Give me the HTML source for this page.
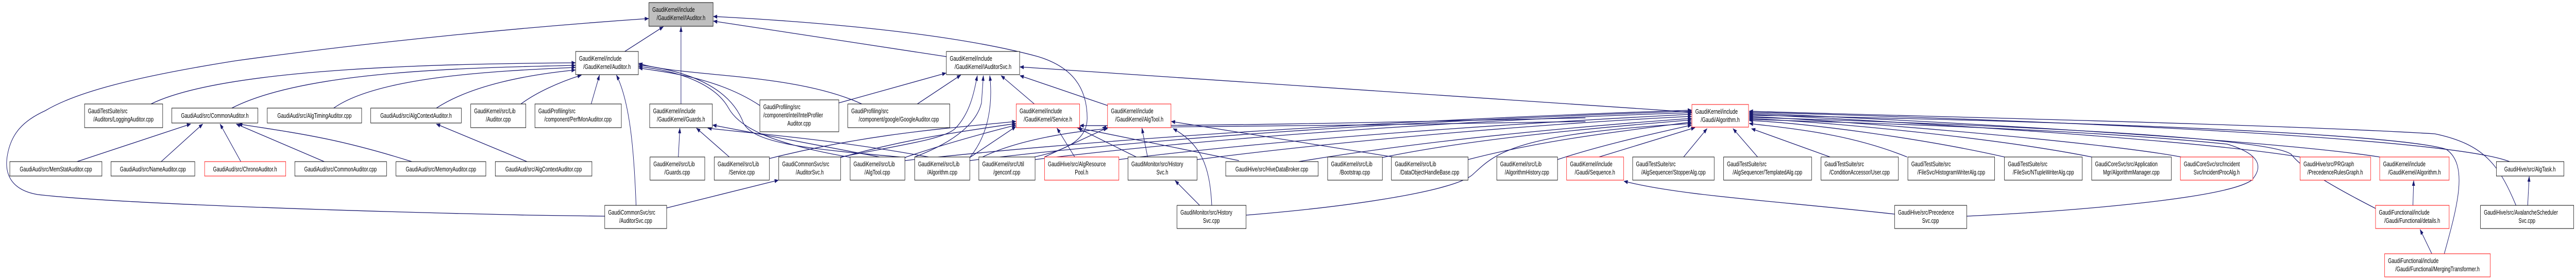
<!DOCTYPE html>
<html><head><meta charset="utf-8"><style>
html,body{margin:0;padding:0;background:#fff;width:100%;height:100%;overflow:hidden;}
svg{display:block;width:100vw;height:100vh;}
text{font-family:"Liberation Sans",sans-serif;font-size:12.5px;fill:#000;}
.e{fill:none;stroke:#191970;stroke-width:1.3;marker-end:url(#a);}
.n{fill:#fff;stroke:#000;stroke-width:1;}
.r{fill:#fff;stroke:#ff0000;stroke-width:1;}
.g{fill:#bfbfbf;stroke:#000;stroke-width:1;}
</style></head><body>
<svg viewBox="0 0 6824 544" preserveAspectRatio="none" xmlns="http://www.w3.org/2000/svg" overflow="hidden">
<defs><marker id="a" markerWidth="11" markerHeight="8" refX="10" refY="4" orient="auto" markerUnits="userSpaceOnUse"><path d="M0,0 L11,4 L0,8 z" fill="#191970"/></marker></defs>

<path class="e" d="M1655,100 L1757,52"/>
<path class="e" d="M1804,202 L1804,52"/>
<path class="e" d="M2507,110 L1890,41"/>
<path class="e" d="M1602,420 L1400,418 C900,410 300,395 100,378 C20,368 12,330 20,300 C30,260 60,235 120,215 C200,180 350,150 625,118 C1000,80 1400,52 1718,36"/>
<path class="e" d="M400,202 C600,130 1200,124 1524,122"/>
<path class="e" d="M614,210 C800,140 1200,132 1524,127"/>
<path class="e" d="M884,210 C1000,150 1300,138 1524,131"/>
<path class="e" d="M1156,210 C1250,165 1400,145 1524,136"/>
<path class="e" d="M1380,202 C1420,180 1480,160 1540,146"/>
<path class="e" d="M1566,202 L1588,146"/>
<path class="e" d="M1685,399 C1680,300 1670,200 1633,146"/>
<path class="e" d="M2013,205 C1900,150 1760,140 1692,132"/>
<path class="e" d="M2283,202 C2100,140 1800,150 1692,123"/>
<path class="e" d="M2400,306 C2150,290 2000,280 1970,240 C1940,180 1850,140 1692,126"/>
<path class="e" d="M2255,306 C2050,280 1960,250 1930,210 C1900,170 1820,140 1692,129"/>
<path class="e" d="M204,314 L505,241"/>
<path class="e" d="M427,314 L537,241"/>
<path class="e" d="M638,314 L583,241"/>
<path class="e" d="M859,314 L626,241"/>
<path class="e" d="M1091,314 C900,270 800,260 632,241"/>
<path class="e" d="M1396,314 L1156,241"/>
<path class="e" d="M1797,305 L1801,249"/>
<path class="e" d="M1932,305 L1845,249"/>
<path class="e" d="M2330,305 L1888,243"/>
<path class="e" d="M2460,305 C2200,270 2000,260 1875,249"/>
<path class="e" d="M1766,404 L2062,350"/>
<path class="e" d="M2222,200 L2506,142"/>
<path class="e" d="M2430,202 L2545,146"/>
<path class="e" d="M2227,305 C2400,280 2500,270 2530,250 C2570,220 2580,180 2589,147"/>
<path class="e" d="M2423,305 C2550,270 2590,230 2600,200 L2605,147"/>
<path class="e" d="M2570,305 C2620,260 2630,200 2622,147"/>
<path class="e" d="M2740,202 L2652,147"/>
<path class="e" d="M2934,205 L2702,147"/>
<path class="e" d="M4482,218 L2702,130"/>
<path class="e" d="M2740,305 C2800,295 2880,280 2880,230 C2880,170 2840,130 2750,110 C2500,60 2100,40 1890,32"/>
<path class="e" d="M2038,308 C2300,260 2500,250 2691,236"/>
<path class="e" d="M2227,306 C2400,270 2550,255 2691,240"/>
<path class="e" d="M2397,306 C2500,280 2600,260 2691,243"/>
<path class="e" d="M2569,306 L2691,246"/>
<path class="e" d="M2847,305 L2800,249"/>
<path class="e" d="M3010,305 L2856,249"/>
<path class="e" d="M3282,312 L2853,248"/>
<path class="e" d="M4200,229 C3800,235 3300,245 2861,244"/>
<path class="e" d="M4200,236 C3800,240 3300,248 2920,248"/>
<path class="e" d="M3040,305 L3025,249"/>
<path class="e" d="M3690,305 L3103,236"/>
<path class="e" d="M2767,305 L2934,248"/>
<path class="e" d="M2600,306 C2700,270 2850,255 2934,250"/>
<path class="e" d="M3178,399 L3113,351"/>
<path class="e" d="M3210,399 C3205,320 3180,280 3108,250"/>
<path class="e" d="M3301,418 C3600,400 3850,370 3900,340 C3960,300 4000,260 4481,240"/>
<path class="e" d="M2964,310 C3400,270 4000,240 4481,222"/>
<path class="e" d="M3171,310 C3600,270 4100,240 4481,226"/>
<path class="e" d="M3440,314 C3800,270 4200,245 4481,230"/>
<path class="e" d="M3662,306 C3900,270 4200,250 4481,233"/>
<path class="e" d="M3889,310 C4100,270 4300,255 4481,237"/>
<path class="e" d="M4126,310 C4250,280 4380,260 4481,243"/>
<path class="e" d="M4236,305 L4490,248"/>
<path class="e" d="M2742,310 C3300,260 4000,230 4481,219"/>
<path class="e" d="M2569,312 C3200,255 4000,228 4481,216"/>
<path class="e" d="M2397,312 C3100,255 4000,226 4481,214"/>
<path class="e" d="M4460,305 L4522,250"/>
<path class="e" d="M4656,305 L4591,250"/>
<path class="e" d="M4848,305 L4640,250"/>
<path class="e" d="M5052,305 C4900,260 4750,250 4634,240"/>
<path class="e" d="M5310,305 C5100,270 4800,240 4634,234"/>
<path class="e" d="M5541,305 C5300,270 4900,240 4634,230"/>
<path class="e" d="M5778,305 C5600,280 5000,240 4634,226"/>
<path class="e" d="M6093,305 C5800,270 5000,235 4634,222"/>
<path class="e" d="M6304,305 C6000,270 5000,230 4634,220"/>
<path class="e" d="M6648,314 C6500,270 5500,235 4634,218"/>
<path class="e" d="M6665,399 C6620,320 6580,280 6450,260 C6000,240 5000,225 4634,216"/>
<path class="e" d="M6475,493 C6510,400 6540,320 6480,290 C6300,250 5000,228 4634,224"/>
<path class="e" d="M6293,405 C6200,370 6100,330 6070,300 C6000,260 5000,236 4634,228"/>
<path class="e" d="M5210,420 C5500,410 5900,385 5965,350 C5995,325 5990,300 5900,280 C5500,250 4900,238 4634,232"/>
<path class="e" d="M5019,416 C4700,390 4450,380 4302,352"/>
<path class="e" d="M6442,493 L6411,446"/>
<path class="e" d="M6392,399 L6394,351"/>
<path class="e" d="M6696,399 L6700,343"/>

<rect class="g" x="1719" y="5" width="170" height="46"/><text x="1728" y="23">GaudiKernel/include</text><text x="1804" y="39" text-anchor="middle">/GaudiKernel/IAuditor.h</text>
<rect class="n" x="1525" y="100" width="166" height="45"/><text x="1534" y="118">GaudiKernel/include</text><text x="1608" y="134" text-anchor="middle">/GaudiKernel/Auditor.h</text>
<rect class="n" x="2507" y="100" width="194" height="45"/><text x="2516" y="118">GaudiKernel/include</text><text x="2604" y="134" text-anchor="middle">/GaudiKernel/IAuditorSvc.h</text>

<rect class="n" x="224" y="202" width="207" height="46"/><text x="233" y="220">GaudiTestSuite/src</text><text x="327" y="236" text-anchor="middle">/Auditors/LoggingAuditor.cpp</text>
<rect class="n" x="455" y="210" width="228" height="29"/><text x="569" y="229" text-anchor="middle">GaudiAud/src/CommonAuditor.h</text>
<rect class="n" x="708" y="210" width="250" height="29"/><text x="833" y="229" text-anchor="middle">GaudiAud/src/AlgTimingAuditor.cpp</text>
<rect class="n" x="982" y="210" width="240" height="29"/><text x="1102" y="229" text-anchor="middle">GaudiAud/src/AlgContextAuditor.h</text>
<rect class="n" x="1247" y="202" width="146" height="46"/><text x="1256" y="220">GaudiKernel/src/Lib</text><text x="1320" y="236" text-anchor="middle">/Auditor.cpp</text>
<rect class="n" x="1417" y="202" width="229" height="46"/><text x="1426" y="220">GaudiProfiling/src</text><text x="1531" y="236" text-anchor="middle">/component/PerfMonAuditor.cpp</text>
<rect class="n" x="1721" y="202" width="166" height="46"/><text x="1730" y="220">GaudiKernel/include</text><text x="1804" y="236" text-anchor="middle">/GaudiKernel/Guards.h</text>
<rect class="n" x="2013" y="194" width="209" height="62"/><text x="2022" y="212">GaudiProfiling/src</text><text x="2022" y="228">/component/intel/IntelProfiler</text><text x="2117" y="244" text-anchor="middle">Auditor.cpp</text>
<rect class="n" x="2246" y="202" width="270" height="46"/><text x="2255" y="220">GaudiProfiling/src</text><text x="2381" y="236" text-anchor="middle">/component/google/GoogleAuditor.cpp</text>
<rect class="r" x="2692" y="202" width="168" height="46"/><text x="2701" y="220">GaudiKernel/include</text><text x="2776" y="236" text-anchor="middle">/GaudiKernel/Service.h</text>
<rect class="r" x="2934" y="202" width="168" height="46"/><text x="2943" y="220">GaudiKernel/include</text><text x="3018" y="236" text-anchor="middle">/GaudiKernel/AlgTool.h</text>
<rect class="r" x="4482" y="203" width="150" height="44"/><text x="4491" y="221">GaudiKernel/include</text><text x="4557" y="237" text-anchor="middle">/Gaudi/Algorithm.h</text>

<rect class="n" x="26" y="314" width="244" height="28"/><text x="148" y="333" text-anchor="middle">GaudiAud/src/MemStatAuditor.cpp</text>
<rect class="n" x="294" y="314" width="222" height="28"/><text x="405" y="333" text-anchor="middle">GaudiAud/src/NameAuditor.cpp</text>
<rect class="r" x="542" y="314" width="215" height="28"/><text x="649" y="333" text-anchor="middle">GaudiAud/src/ChronoAuditor.h</text>
<rect class="n" x="781" y="314" width="243" height="28"/><text x="902" y="333" text-anchor="middle">GaudiAud/src/CommonAuditor.cpp</text>
<rect class="n" x="1049" y="314" width="238" height="28"/><text x="1168" y="333" text-anchor="middle">GaudiAud/src/MemoryAuditor.cpp</text>
<rect class="n" x="1312" y="314" width="256" height="28"/><text x="1440" y="333" text-anchor="middle">GaudiAud/src/AlgContextAuditor.cpp</text>
<rect class="n" x="3247" y="314" width="245" height="28"/><text x="3369" y="333" text-anchor="middle">GaudiHive/src/HiveDataBroker.cpp</text>
<rect class="n" x="6613" y="314" width="179" height="28"/><text x="6702" y="333" text-anchor="middle">GaudiHive/src/AlgTask.h</text>

<rect class="n" x="1722" y="305" width="145" height="45"/><text x="1731" y="323">GaudiKernel/src/Lib</text><text x="1794" y="339" text-anchor="middle">/Guards.cpp</text>
<rect class="n" x="1892" y="305" width="146" height="45"/><text x="1901" y="323">GaudiKernel/src/Lib</text><text x="1965" y="339" text-anchor="middle">/Service.cpp</text>
<rect class="n" x="2063" y="305" width="164" height="45"/><text x="2072" y="323">GaudiCommonSvc/src</text><text x="2145" y="339" text-anchor="middle">/AuditorSvc.h</text>
<rect class="n" x="2252" y="305" width="145" height="45"/><text x="2261" y="323">GaudiKernel/src/Lib</text><text x="2324" y="339" text-anchor="middle">/AlgTool.cpp</text>
<rect class="n" x="2423" y="305" width="146" height="45"/><text x="2432" y="323">GaudiKernel/src/Lib</text><text x="2496" y="339" text-anchor="middle">/Algorithm.cpp</text>
<rect class="n" x="2593" y="305" width="149" height="45"/><text x="2602" y="323">GaudiKernel/src/Util</text><text x="2667" y="339" text-anchor="middle">/genconf.cpp</text>
<rect class="r" x="2767" y="305" width="197" height="45"/><text x="2776" y="323">GaudiHive/src/AlgResource</text><text x="2865" y="339" text-anchor="middle">Pool.h</text>
<rect class="n" x="2988" y="305" width="183" height="45"/><text x="2997" y="323">GaudiMonitor/src/History</text><text x="3079" y="339" text-anchor="middle">Svc.h</text>
<rect class="n" x="3517" y="305" width="145" height="45"/><text x="3526" y="323">GaudiKernel/src/Lib</text><text x="3589" y="339" text-anchor="middle">/Bootstrap.cpp</text>
<rect class="n" x="3686" y="305" width="203" height="45"/><text x="3695" y="323">GaudiKernel/src/Lib</text><text x="3787" y="339" text-anchor="middle">/DataObjectHandleBase.cpp</text>
<rect class="n" x="3965" y="305" width="161" height="45"/><text x="3974" y="323">GaudiKernel/src/Lib</text><text x="4045" y="339" text-anchor="middle">/AlgorithmHistory.cpp</text>
<rect class="r" x="4150" y="305" width="151" height="45"/><text x="4159" y="323">GaudiKernel/include</text><text x="4225" y="339" text-anchor="middle">/Gaudi/Sequence.h</text>
<rect class="n" x="4325" y="305" width="216" height="45"/><text x="4334" y="323">GaudiTestSuite/src</text><text x="4433" y="339" text-anchor="middle">/AlgSequencer/StopperAlg.cpp</text>
<rect class="n" x="4566" y="305" width="233" height="45"/><text x="4575" y="323">GaudiTestSuite/src</text><text x="4682" y="339" text-anchor="middle">/AlgSequencer/TemplatedAlg.cpp</text>
<rect class="n" x="4824" y="305" width="205" height="45"/><text x="4833" y="323">GaudiTestSuite/src</text><text x="4926" y="339" text-anchor="middle">/ConditionAccessor/User.cpp</text>
<rect class="n" x="5054" y="305" width="230" height="45"/><text x="5063" y="323">GaudiTestSuite/src</text><text x="5169" y="339" text-anchor="middle">/FileSvc/HistogramWriterAlg.cpp</text>
<rect class="n" x="5310" y="305" width="206" height="45"/><text x="5319" y="323">GaudiTestSuite/src</text><text x="5413" y="339" text-anchor="middle">/FileSvc/NTupleWriterAlg.cpp</text>
<rect class="n" x="5541" y="305" width="211" height="45"/><text x="5550" y="323">GaudiCoreSvc/src/Application</text><text x="5646" y="339" text-anchor="middle">Mgr/AlgorithmManager.cpp</text>
<rect class="r" x="5776" y="305" width="192" height="45"/><text x="5785" y="323">GaudiCoreSvc/src/Incident</text><text x="5872" y="339" text-anchor="middle">Svc/IncidentProcAlg.h</text>
<rect class="r" x="6093" y="305" width="187" height="45"/><text x="6102" y="323">GaudiHive/src/PRGraph</text><text x="6186" y="339" text-anchor="middle">/PrecedenceRulesGraph.h</text>
<rect class="r" x="6304" y="305" width="184" height="45"/><text x="6313" y="323">GaudiKernel/include</text><text x="6396" y="339" text-anchor="middle">/GaudiKernel/Algorithm.h</text>

<rect class="n" x="1602" y="399" width="164" height="45"/><text x="1611" y="417">GaudiCommonSvc/src</text><text x="1684" y="433" text-anchor="middle">/AuditorSvc.cpp</text>
<rect class="n" x="3118" y="399" width="183" height="45"/><text x="3127" y="417">GaudiMonitor/src/History</text><text x="3209" y="433" text-anchor="middle">Svc.cpp</text>
<rect class="n" x="5019" y="399" width="191" height="45"/><text x="5028" y="417">GaudiHive/src/Precedence</text><text x="5114" y="433" text-anchor="middle">Svc.cpp</text>
<rect class="r" x="6293" y="399" width="195" height="45"/><text x="6302" y="417">GaudiFunctional/include</text><text x="6390" y="433" text-anchor="middle">/Gaudi/Functional/details.h</text>
<rect class="n" x="6571" y="399" width="247" height="45"/><text x="6580" y="417">GaudiHive/src/AvalancheScheduler</text><text x="6694" y="433" text-anchor="middle">Svc.cpp</text>
<rect class="r" x="6317" y="493" width="280" height="45"/><text x="6326" y="511">GaudiFunctional/include</text><text x="6457" y="527" text-anchor="middle">/Gaudi/Functional/MergingTransformer.h</text>
</svg>
</body></html>
